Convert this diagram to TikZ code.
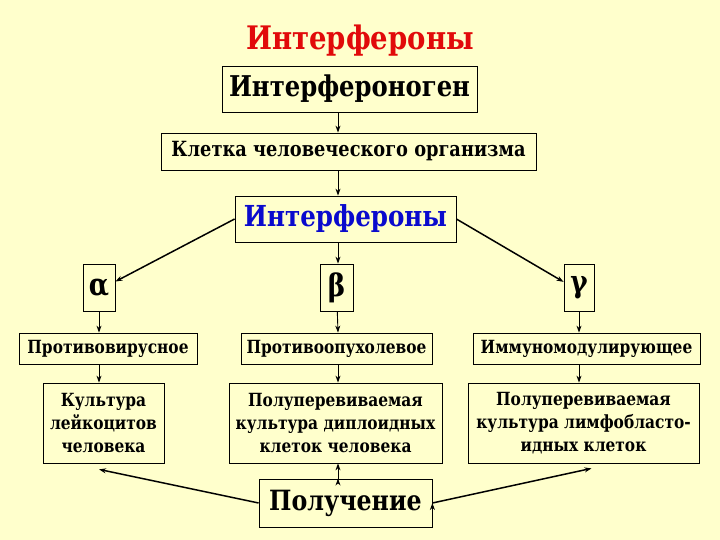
\documentclass[tikz,border=0pt]{standalone}
\usepackage{fontspec}
\setmainfont{DejaVu Serif}[FakeStretch=0.85]
\usetikzlibrary{arrows.meta}
\definecolor{bgyellow}{RGB}{255,255,204}
\definecolor{titlered}{RGB}{225,10,10}
\definecolor{ifnblue}{RGB}{10,10,205}
\newcommand{\fs}[1]{\fontsize{#1}{1.26\dimexpr #1pt\relax}\selectfont\rmfamily\bfseries}

\begin{document}
\begin{tikzpicture}[x=1bp,y=-1bp]
\tikzstyle{every node}=[font=\fs{18.2}]
\tikzstyle{box}=[draw,line width=0.8bp,inner sep=0pt,align=center]
\tikzstyle{arr}=[-{Stealth[length=7bp,width=5bp]},line width=0.9bp]
\tikzstyle{diag}=[arr,line width=1.5bp]
\fill[bgyellow] (0,0) rectangle (720,540);
\useasboundingbox (0,0) rectangle (720,540);
% top of the chain
\node[anchor=base,text=titlered,font=\fs{32.5}] (title) at (360,50) {Интерфероны};
\node[box,minimum width=255bp,minimum height=46bp,font=\fs{28.7}] (gen) at (349.5,89) {Интерфероноген};
\node[box,minimum width=375bp,minimum height=37bp,font=\fs{21}] (cell) at (348.5,151.5) {Клетка человеческого организма};
\node[box,minimum width=221bp,minimum height=46bp,text=ifnblue,font=\fs{29}] (ifn) at (345.5,219) {Интерфероны};
\coordinate (axis) at (338,0);
% the three types
\node[box,minimum width=32bp,minimum height=47bp,font=\fs{31}] (alpha) at (99,287.5) {α};
\node[box,minimum width=33bp,minimum height=47bp,font=\fs{31}] (beta) at (336.5,287.5) {β};
\node[box,minimum width=30bp,minimum height=47bp,font=\fs{31}] (gamma) at (579,287.5) {γ};
% action
\node[box,minimum width=178bp,minimum height=31bp] (antiviral) at (108,348.5) {Противовирусное};
\node[box,minimum width=191bp,minimum height=31bp] (antitumor) at (336.5,348.5) {Противоопухолевое};
\node[box,minimum width=227bp,minimum height=31bp] (immuno) at (586.5,348.5) {Иммуномодулирующее};
% cultures
\node[box,minimum width=121bp,minimum height=80bp] (leuko) at (103.5,423) {Культура\\лейкоцитов\\человека};
\node[box,minimum width=213bp,minimum height=80bp] (diploid) at (335.5,423) {Полуперевиваемая\\культура диплоидных\\клеток человека};
\node[box,minimum width=231bp,minimum height=80bp] (lympho) at (583.5,423) {Полуперевиваемая\\культура лимфобласто-\\идных клеток};
\node[box,minimum width=173bp,minimum height=48bp,font=\fs{28}] (get) at (345.5,503) {Получение};
\path[arr,draw]
 (gen.south -| axis) edge (cell.north -| axis)
 (cell.south -| axis) edge (ifn.north -| axis)
 (ifn.south -| axis) edge (beta.north -| axis)
 (alpha) edge (antiviral.north -| alpha)
 (beta) edge (antitumor.north -| axis)
 (gamma) edge (immuno.north -| gamma)
 (antiviral.south -| alpha) edge (leuko.north -| alpha)
 (antitumor.south -| axis) edge (diploid.north -| axis)
 (immuno.south -| gamma) edge (lympho.north -| gamma)
 (get.north -| axis) edge (diploid.south -| axis)
 ;
\path[diag,draw]
 (ifn.west) edge (alpha.20)
 (ifn.east) edge (gamma.160)
 (get.west) edge ([yshift=-6bp]leuko.south -| alpha)
 (get.east) edge ([xshift=8bp,yshift=-5bp]lympho.south)
 ;
\end{tikzpicture}
\end{document}
